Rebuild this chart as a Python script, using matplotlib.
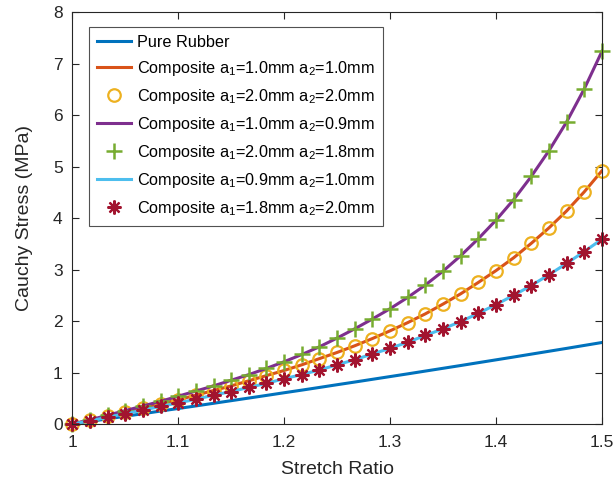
import matplotlib
matplotlib.use("Agg")
import matplotlib.pyplot as plt
import numpy as np

plt.rcParams['font.family'] = ['Liberation Sans', 'DejaVu Sans']
plt.rcParams['mathtext.fontset'] = 'custom'
plt.rcParams['mathtext.rm'] = 'Liberation Sans'
plt.rcParams['mathtext.it'] = 'Liberation Sans'
plt.rcParams['mathtext.default'] = 'regular'

# Stretch ratio samples
stretch = [1.0, 1.0167, 1.0333, 1.05, 1.0667, 1.0833, 1.1, 1.1167, 1.1333, 1.15,
           1.1667, 1.1833, 1.2, 1.2167, 1.2333, 1.25, 1.2667, 1.2833, 1.3, 1.3167,
           1.3333, 1.35, 1.3667, 1.3833, 1.4, 1.4167, 1.4333, 1.45, 1.4667, 1.4833, 1.5]

pure_rubber = [0.0, 0.050, 0.100, 0.150, 0.200, 0.251, 0.301, 0.351, 0.402, 0.453,
               0.504, 0.555, 0.607, 0.658, 0.710, 0.763, 0.815, 0.868, 0.921, 0.974,
               1.028, 1.082, 1.136, 1.191, 1.246, 1.301, 1.357, 1.413, 1.469, 1.526, 1.583]

comp_equal = [0.0, 0.07, 0.15, 0.23, 0.31, 0.39, 0.47, 0.56, 0.65, 0.74,
              0.84, 0.94, 1.04, 1.15, 1.27, 1.39, 1.52, 1.66, 1.81, 1.97,
              2.14, 2.33, 2.53, 2.75, 2.98, 3.23, 3.51, 3.81, 4.14, 4.51, 4.92]

comp_a2_smaller = [0.0, 0.08, 0.17, 0.26, 0.35, 0.44, 0.54, 0.64, 0.74, 0.85,
                   0.96, 1.08, 1.21, 1.35, 1.50, 1.67, 1.85, 2.04, 2.24, 2.46,
                   2.70, 2.97, 3.27, 3.60, 3.96, 4.36, 4.81, 5.31, 5.87, 6.51, 7.24]

comp_a1_smaller = [0.0, 0.06, 0.13, 0.20, 0.27, 0.34, 0.41, 0.48, 0.56, 0.63,
                   0.71, 0.79, 0.88, 0.96, 1.05, 1.15, 1.25, 1.36, 1.47, 1.59,
                   1.72, 1.85, 1.99, 2.15, 2.32, 2.50, 2.69, 2.90, 3.12, 3.35, 3.59]

labels = ['Pure Rubber',
          'Composite a$_1$=1.0mm a$_2$=1.0mm',
          'Composite a$_1$=2.0mm a$_2$=2.0mm',
          'Composite a$_1$=1.0mm a$_2$=0.9mm',
          'Composite a$_1$=2.0mm a$_2$=1.8mm',
          'Composite a$_1$=0.9mm a$_2$=1.0mm',
          'Composite a$_1$=1.8mm a$_2$=2.0mm']

fig = plt.figure(figsize=(6.13, 4.86), dpi=100)
ax = fig.add_axes([0.118, 0.1276, 0.864, 0.8474])

lw = 2.2
ax.plot(stretch, pure_rubber, color='#0072BD', lw=lw, label=labels[0])
ax.plot(stretch, comp_equal, color='#D95319', lw=lw, label=labels[1])
ax.plot(stretch, comp_equal, ls='none', marker='o', ms=9, mfc='none', mec='#EDB120',
        mew=1.6, clip_on=False, label=labels[2])
ax.plot(stretch, comp_a2_smaller, color='#7E2F8E', lw=lw, label=labels[3])
ax.plot(stretch, comp_a2_smaller, ls='none', marker='+', ms=11, mec='#77AC30',
        mew=1.8, clip_on=False, label=labels[4])
ax.plot(stretch, comp_a1_smaller, color='#4DBEEE', lw=lw, label=labels[5])
ax.plot(stretch, comp_a1_smaller, ls='none', marker=(8, 2, 0), ms=10, mec='#A2142F',
        mew=1.6, clip_on=False, label=labels[6])

ax.set_xlim(1.0, 1.5)
ax.set_ylim(0, 8)
ax.set_xticks([1.0, 1.1, 1.2, 1.3, 1.4, 1.5])
ax.set_xticklabels(['1', '1.1', '1.2', '1.3', '1.4', '1.5'])
ax.set_yticks(range(0, 9))
ax.tick_params(direction='in', top=True, right=True, labelsize=12.5,
               length=5, width=0.8, colors='#262626', labelcolor='#262626')
ax.tick_params(axis='x', pad=8)
ax.tick_params(axis='y', pad=7)
for s in ax.spines.values():
    s.set_color('#262626')
    s.set_linewidth(0.8)

ax.set_xlabel('Stretch Ratio', fontsize=14, color='#262626', labelpad=8)
ax.set_ylabel('Cauchy Stress (MPa)', fontsize=14, color='#262626', labelpad=14)

leg = ax.legend(loc='upper left', bbox_to_anchor=(0.031, 0.964), fontsize=11.7,
                frameon=True, fancybox=False, edgecolor='#262626', handlelength=2.1,
                handletextpad=0.35, labelspacing=0.55, borderpad=0.5, borderaxespad=0)
leg.get_frame().set_linewidth(0.8)

fig.savefig('out.png', dpi=100)
